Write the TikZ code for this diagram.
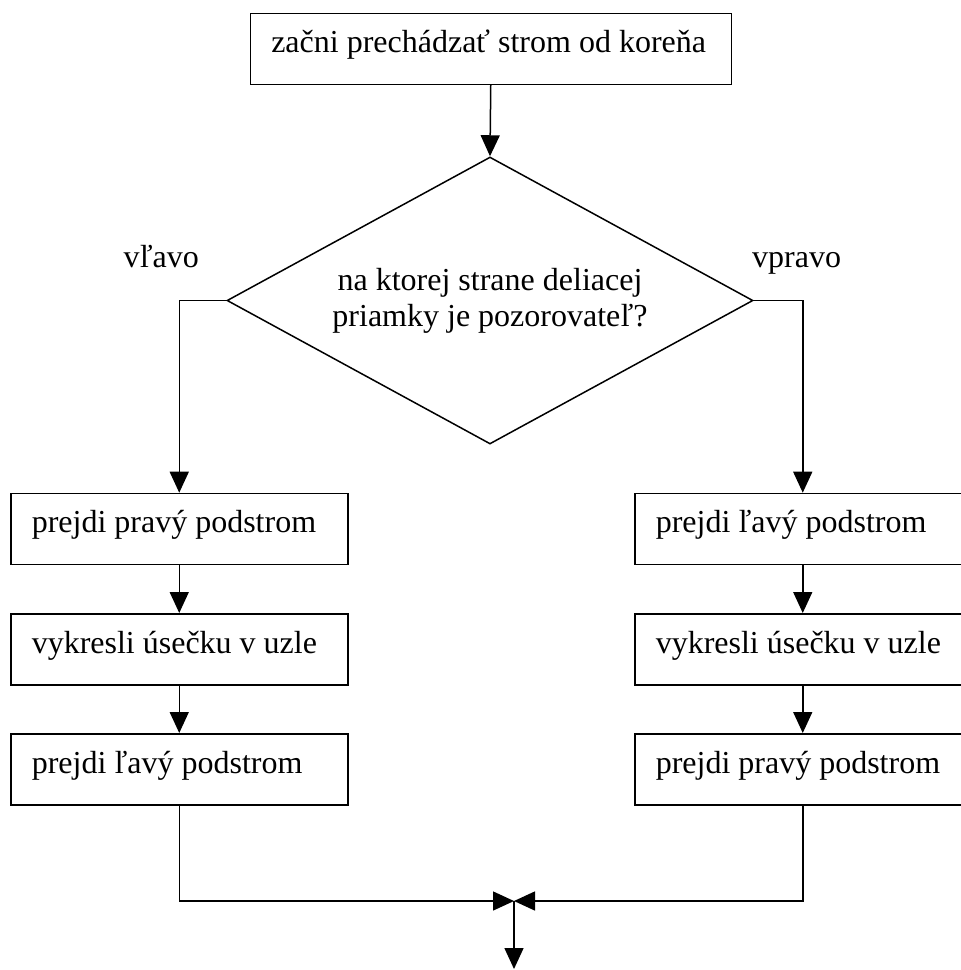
\documentclass[tikz,border=0pt]{standalone}
\usepackage{fontspec}
\setmainfont{Liberation Serif}
\usetikzlibrary{shapes.geometric,arrows.meta}
\begin{document}
\begin{tikzpicture}[x=1pt,y=-1pt,
  font=\fontsize{32}{36}\selectfont,
  box/.style={draw,line width=1.5pt,rectangle,minimum height=71pt,inner xsep=21pt,inner ysep=0pt,
    text height=20pt,text depth=12pt,anchor=north west},
  decision/.style={draw,diamond,line width=1.5pt,minimum width=526pt,minimum height=287pt,
    inner sep=0pt,align=center,aspect=1.83},
  lbl/.style={inner sep=0pt},
  conn/.style={line width=1.5pt,-{Triangle[length=21pt,width=19pt]}}
]
\useasboundingbox (0,0) rectangle (961,970);

\node[box] (top) at (249.5,12.7) {\makebox[439pt][l]{začni prechádzať strom od koreňa}};
\node[decision] (dec) at (490,300.5) {na ktorej strane deliacej\\priamky je pozorovateľ?};

\node[lbl,anchor=base east] (lv) at (199,267) {vľavo};
\node[lbl,anchor=base west] (rv) at (752,267) {vpravo};

\node[box] (l1) at (10,492.7) {\makebox[295pt][l]{prejdi pravý podstrom}};
\node[box] (l2) at (10,613) {\makebox[295pt][l]{vykresli úsečku v uzle}};
\node[box] (l3) at (10,733) {\makebox[295pt][l]{prejdi ľavý podstrom}};

\node[box] (r1) at (634,492.7) {\makebox[294pt][l]{prejdi ľavý podstrom}};
\node[box] (r2) at (634,613) {\makebox[294pt][l]{vykresli úsečku v uzle}};
\node[box] (r3) at (634,733) {\makebox[294pt][l]{prejdi pravý podstrom}};

\coordinate (j) at (514,901);
\coordinate (end) at (514,969);

\draw[conn] (top.south) -- (dec.north);
\draw[conn] (dec.west) -| (l1.north);
\draw[conn] (dec.east) -| (r1.north);
\draw[conn] (l1.south) -- (l2.north);
\draw[conn] (l2.south) -- (l3.north);
\draw[conn] (r1.south) -- (r2.north);
\draw[conn] (r2.south) -- (r3.north);
\draw[conn] (l3.south) |- (j);
\draw[conn] (r3.south) |- (j);
\draw[conn] (j) -- (end);
\end{tikzpicture}
\end{document}
